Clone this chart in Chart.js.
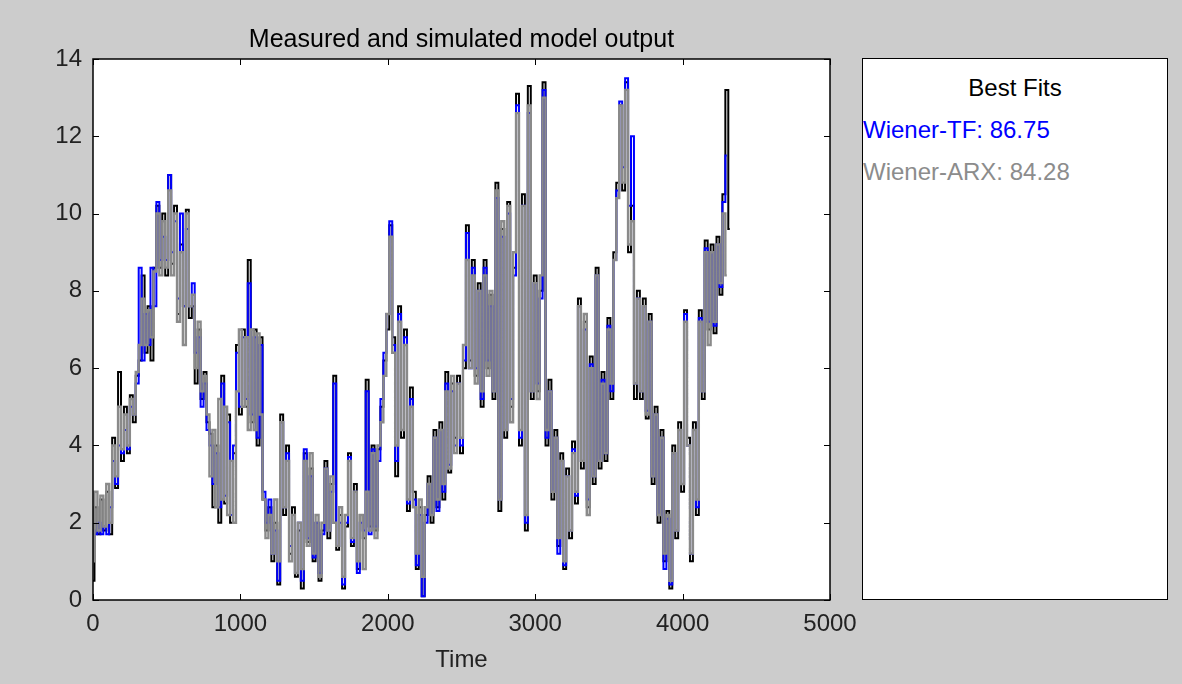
<!DOCTYPE html>
<html>
<head>
<meta charset="utf-8">
<script src="https://cdn.jsdelivr.net/npm/chart.js@4.4.1/dist/chart.umd.min.js"></script>
<style>
  body { margin: 0; background: #cccccc; font-family: "Liberation Sans", Arial, sans-serif; }
  #wrap { position: relative; width: 1182px; height: 684px; }
  #fits { position: absolute; left: 862px; top: 58px; width: 306px; height: 542px;
          background: #fff; border: 1px solid #000; box-sizing: border-box; }
  #fits div { position: absolute; font-size: 24px; line-height: 28px; white-space: nowrap; }
</style>
</head>
<body>
<div id="wrap">
  <canvas id="c" width="1182" height="684"></canvas>
  <div id="fits">
    <div style="left:0;width:304px;text-align:center;top:15px;color:#000">Best Fits</div>
    <div style="left:0;top:57px;color:#0000ff">Wiener-TF: 86.75</div>
    <div style="left:0;top:99px;color:#8c8c8c">Wiener-ARX: 84.28</div>
  </div>
</div>
<script>
// sample spacing along Time (all series sampled at t = 0, 20, 40 ...)
let step = 20;

// measured output
let measured = [
0.5, 2.4, 1.7, 2.6, 1.8,  2.8, 1.7, 4.2, 2.9, 5.9,  3.6, 5.0, 3.8, 5.3, 4.6,
5.8, 6.2, 8.4, 6.4, 7.6,  6.2, 8.6, 10.2, 8.6, 10.0,  8.4, 11.0, 8.7, 10.2, 7.4,
9.2, 7.6, 10.1, 7.3, 7.6,  5.6, 7.0, 5.2, 5.9, 4.6,  4.3, 2.4, 4.0, 2.0, 5.8,
2.5, 4.8, 2.0, 3.8, 6.6,  4.8, 7.0, 5.0, 8.8, 4.6,  7.0, 4.0, 6.8, 2.6, 1.8,
2.4, 1.0, 2.0, 0.4, 4.8,  2.2, 4.0, 1.2, 2.4, 0.6,  1.8, 0.3, 3.8, 1.5, 3.4,
1.0, 2.0, 0.5, 1.8, 3.6,  1.6, 3.0, 5.8, 1.3, 2.2,  0.3, 1.9, 3.8, 1.4, 3.0,
0.8, 2.2, 1.6, 5.7, 1.9,  4.0, 1.8, 3.9, 5.0, 6.2,  7.0, 9.7, 6.8, 3.2, 7.6,
4.2, 7.0, 2.3, 5.5, 2.8,  0.8, 2.4, 0.1, 2.2, 3.2,  2.0, 4.4, 2.4, 4.6, 2.6,
5.9, 3.3, 5.6, 4.2, 5.8,  3.8, 6.0, 9.7, 6.2, 8.8,  5.8, 8.2, 5.0, 8.8, 6.0,
7.9, 5.2, 10.8, 2.3, 9.6,  4.2, 10.3, 5.0, 8.6, 13.1,  4.0, 10.5, 1.8, 13.3, 5.2,
8.4, 5.4, 8.0, 13.4, 4.0,  5.7, 2.6, 4.4, 1.4, 3.8,  0.8, 3.4, 1.6, 4.1, 2.5,
7.8, 3.4, 7.2, 2.4, 6.3,  3.0, 8.6, 3.4, 5.9, 3.6,  7.3, 5.2, 9.0, 10.8, 12.8,
10.6, 13.4, 9.0, 10.2, 5.2,  8.0, 5.2, 7.8, 4.7, 7.4,  3.0, 5.0, 2.0, 4.4, 1.0,
2.3, 0.3, 4.0, 1.6, 4.6,  2.8, 7.5, 4.2, 1.0, 4.6,  2.2, 7.5, 5.2, 9.3, 7.0,
9.2, 6.9, 9.4, 7.9, 10.5,  13.2, 9.6
];

// Wiener-TF simulation
let wienerTF = [
1.8, 1.7, 2.0, 1.7, 1.9,  1.7, 2.4, 3.6, 3.0, 4.0,  3.8, 4.4, 3.9, 5.0, 4.8,
5.6, 8.6, 6.2, 7.4, 6.6,  8.6, 7.6, 10.3, 8.8, 9.4,  8.8, 11.0, 9.0, 9.8, 7.8,
10.0, 7.6, 9.6, 7.6, 8.2,  6.4, 6.8, 5.0, 5.6, 4.4,  4.0, 3.0, 3.8, 2.4, 5.6,
2.7, 4.6, 2.2, 4.0, 6.4,  5.0, 6.8, 5.2, 8.2, 4.8,  6.8, 4.2, 6.6, 2.8, 2.0,
2.6, 1.2, 1.8, 0.5, 4.6,  2.4, 3.8, 1.4, 2.2, 0.7,  2.0, 0.5, 3.9, 1.6, 3.2,
1.1, 2.0, 0.7, 1.7, 3.4,  1.8, 2.8, 5.6, 1.4, 2.0,  0.4, 2.0, 3.7, 1.5, 2.8,
0.7, 2.0, 1.8, 5.4, 1.7,  3.9, 1.9, 3.6, 5.2, 6.4,  7.4, 9.8, 6.6, 3.6, 7.4,
4.4, 6.8, 2.5, 5.2, 2.6,  0.9, 2.2, 0.1, 2.0, 3.0,  2.2, 4.2, 2.3, 4.4, 2.8,
5.6, 3.5, 5.4, 4.0, 5.6,  4.0, 6.2, 9.5, 6.0, 8.6,  6.0, 8.0, 5.2, 8.6, 6.2,
7.6, 5.4, 10.4, 2.6, 9.4,  4.4, 10.0, 5.2, 8.4, 12.8,  4.2, 10.2, 2.0, 12.6, 5.4,
8.2, 5.6, 7.8, 13.2, 4.2,  5.4, 2.8, 4.2, 1.2, 3.6,  0.9, 3.2, 1.8, 3.9, 2.7,
7.6, 3.6, 7.0, 2.6, 6.1,  3.2, 8.4, 3.6, 5.7, 3.8,  7.1, 5.4, 8.8, 10.6, 12.9,
11.2, 13.5, 10.2, 12.0, 5.6,  7.8, 5.4, 7.6, 4.9, 7.2,  3.2, 4.8, 2.2, 4.2, 0.8,
2.1, 0.4, 3.8, 1.8, 4.4,  3.0, 7.4, 4.0, 1.2, 4.4,  2.4, 7.3, 5.4, 9.1, 7.2,
9.0, 7.1, 9.2, 8.1, 10.3,  11.5
];

// Wiener-ARX simulation
let wienerARX = [
1.0, 2.8, 1.8, 2.7, 1.9,  3.0, 2.0, 4.0, 3.2, 5.0,  3.9, 4.8, 4.0, 5.2, 4.8,
5.9, 6.6, 7.8, 6.6, 7.5,  6.8, 8.5, 10.0, 8.4, 9.8,  8.6, 10.6, 8.4, 10.0, 7.2,
9.0, 6.6, 10.0, 7.6, 7.9,  6.0, 7.2, 5.4, 5.8, 4.8,  3.2, 4.4, 2.4, 5.2, 2.6,
5.0, 2.2, 3.6, 2.0, 5.4,  7.0, 5.0, 6.8, 4.4, 7.0,  4.4, 6.9, 4.8, 2.6, 1.6,
2.2, 1.2, 2.6, 1.0, 4.6,  2.4, 3.6, 1.0, 2.2, 0.7,  2.0, 0.8, 3.6, 1.4, 3.8,
1.2, 2.2, 0.6, 2.0, 3.4,  1.8, 3.2, 2.0, 1.4, 2.4,  0.6, 2.2, 3.6, 1.6, 2.8,
1.0, 2.2, 0.8, 2.8, 1.8,  3.8, 1.6, 4.0, 4.6, 5.8,  7.4, 9.4, 6.4, 4.0, 7.2,
4.4, 6.6, 2.6, 5.0, 2.4,  1.2, 2.6, 0.6, 2.4, 3.0,  2.2, 4.2, 2.6, 4.4, 3.0,
5.4, 3.4, 5.8, 3.8, 5.6,  4.2, 6.6, 8.8, 6.0, 8.4,  5.6, 8.0, 5.4, 8.4, 5.8,
8.0, 5.4, 10.6, 2.6, 9.8,  4.4, 10.2, 4.6, 9.0, 12.6,  4.4, 10.2, 2.2, 12.8, 5.4,
8.2, 5.2, 8.4, 13.0, 4.4,  5.4, 2.8, 4.2, 1.6, 3.6,  1.0, 3.2, 1.8, 3.8, 2.8,
7.6, 3.6, 7.4, 2.2, 6.0,  3.2, 8.4, 3.6, 5.6, 3.8,  7.0, 5.6, 8.8, 10.4, 12.8,
10.8, 13.2, 9.2, 9.8, 5.6,  7.8, 5.4, 7.6, 4.8, 7.2,  3.2, 4.8, 2.2, 4.2, 1.2,
2.2, 0.5, 3.8, 1.8, 4.4,  3.0, 7.2, 4.0, 1.2, 4.4,  2.6, 7.2, 5.4, 9.0, 6.6,
9.0, 7.2, 9.2, 8.2, 10.0,  8.4
];

let xTicks = [0, 1000, 2000, 3000, 4000, 5000];
let yTicks = [0, 2, 4, 6, 8, 10, 12, 14];

function toPoints(values) {
  return values.map((v, i) => ({ x: i * step, y: v }));
}

const FONT = '"Liberation Sans", Arial, sans-serif';

// white axes box, black frame and inward tick marks (MATLAB look)
const frame = {
  id: 'frame',
  beforeDraw(chart) {
    let a = chart.chartArea, ctx = chart.ctx;
    ctx.save();
    ctx.fillStyle = '#fff';
    ctx.fillRect(a.left, a.top, a.right - a.left, a.bottom - a.top);
    ctx.restore();
  },
  afterDatasetsDraw(chart) {
    let a = chart.chartArea, ctx = chart.ctx;
    let xs = chart.scales.x, ys = chart.scales.y;
    ctx.save();
    ctx.strokeStyle = '#000';
    ctx.lineWidth = 1.5;
    ctx.strokeRect(a.left, a.top, a.right - a.left, a.bottom - a.top);
    ctx.lineWidth = 1;
    ctx.beginPath();
    xTicks.forEach(v => {
      let p = Math.round(xs.getPixelForValue(v)) + 0.5;
      ctx.moveTo(p, a.bottom); ctx.lineTo(p, a.bottom - 6);
      ctx.moveTo(p, a.top); ctx.lineTo(p, a.top + 6);
    });
    yTicks.forEach(v => {
      let p = Math.round(ys.getPixelForValue(v)) + 0.5;
      ctx.moveTo(a.left, p); ctx.lineTo(a.left + 6, p);
      ctx.moveTo(a.right, p); ctx.lineTo(a.right - 6, p);
    });
    ctx.stroke();
    ctx.restore();
  }
};

new Chart(document.getElementById('c'), {
  type: 'line',
  data: {
    datasets: [
      { label: 'Wiener-ARX', data: toPoints(wienerARX), borderColor: '#8a8a8a', borderWidth: 2.4 },
      { label: 'Wiener-TF', data: toPoints(wienerTF), borderColor: '#0000ff', borderWidth: 2 },
      { label: 'Measured', data: toPoints(measured), borderColor: '#000000', borderWidth: 2 }
    ]
  },
  options: {
    responsive: false,
    animation: false,
    events: [],
    datasets: { line: { pointRadius: 0, tension: 0, fill: false, stepped: 'middle' } },
    layout: { padding: { left: 0, right: 352, top: 0, bottom: 0 } },
    plugins: {
      legend: { display: false },
      tooltip: { enabled: false },
      title: {
        display: true,
        fullSize: false,
        text: 'Measured and simulated model output',
        color: '#000',
        font: { family: FONT, size: 25, weight: 'normal' },
        padding: { top: 25, bottom: 4 }
      }
    },
    scales: {
      x: {
        type: 'linear', min: 0, max: 5000,
        afterBuildTicks: s => { s.ticks = xTicks.map(v => ({ value: v })); },
        afterFit: s => { s.height = 84; },
        grid: { display: false, drawTicks: false },
        border: { display: false },
        ticks: { color: '#222', padding: 10, maxRotation: 0, callback: v => String(v),
                 font: { family: FONT, size: 24 } },
        title: { display: true, text: 'Time', color: '#222', padding: { top: 0, bottom: 9 },
                 font: { family: FONT, size: 24 } }
      },
      y: {
        type: 'linear', min: 0, max: 14,
        afterBuildTicks: s => { s.ticks = yTicks.map(v => ({ value: v })); },
        afterFit: s => { s.width = 93; },
        grid: { display: false, drawTicks: false },
        border: { display: false },
        ticks: { color: '#222', padding: 11, callback: v => String(v),
                 font: { family: FONT, size: 24 } }
      }
    }
  },
  plugins: [frame]
});
</script>
</body>
</html>
